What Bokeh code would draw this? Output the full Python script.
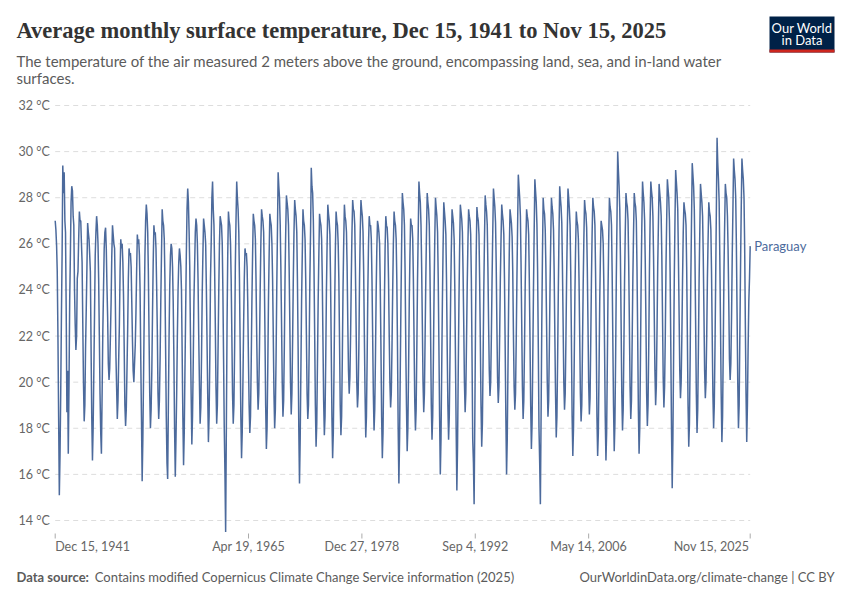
import pandas as pd
from bokeh.plotting import figure
from bokeh.models import ColumnDataSource, Range1d, Label
from bokeh.embed import file_html
from bokeh.resources import INLINE

# ---------------- data (monthly mean temperature, Paraguay, degC) ----------------
temps_1940s = [
    27.0,
    26.6, 25.9, 24.8, 22.0, 18.5, 15.1, 16.8, 19.5, 22.8, 25.5, 29.4, 28.2,
    29.1, 27.0, 26.5, 23.0, 18.7, 20.5, 16.9, 19.8, 23.5, 25.5, 27.8, 28.5,
    28.3, 27.2, 26.8, 24.0, 22.5, 21.4, 22.0, 24.5, 24.8, 26.2, 27.4, 27.0,
    27.0, 26.0, 25.2, 22.5, 20.0, 18.3, 19.0, 21.5, 23.2, 25.0, 26.9, 26.5,
    26.2, 25.5, 24.8, 21.5, 18.5, 16.6, 18.0, 20.5, 23.0, 25.5, 26.5, 27.2,
    26.8, 26.0, 24.5, 22.0, 19.5, 17.8, 16.9, 19.5, 22.2, 24.0, 25.8, 26.5,
    26.7, 25.8, 24.2, 22.8, 20.8, 20.1, 20.6, 22.0, 23.5, 25.5, 26.8, 26.4,
    26.0, 25.8, 24.0, 21.2, 19.8, 18.4, 19.2, 21.0, 22.5, 24.8, 26.2, 25.8,
]
temps_1950s = [
    26.0, 25.2, 23.8, 21.5, 19.0, 18.1, 18.8, 20.5, 22.3, 24.5, 25.8, 25.5,
    25.6, 25.0, 23.5, 21.8, 20.5, 20.0, 20.8, 21.6, 23.0, 24.8, 26.4, 26.0,
    26.2, 25.5, 24.0, 21.0, 18.5, 15.7, 17.5, 20.2, 23.0, 25.5, 27.0, 27.7,
    27.3, 26.5, 24.8, 22.0, 19.5, 18.0, 18.8, 20.5, 23.0, 25.2, 26.8, 26.4,
    26.5, 25.8, 24.2, 22.2, 19.5, 18.4, 19.2, 21.0, 23.5, 25.5, 27.5, 27.0,
    26.8, 26.2, 24.5, 21.5, 18.5, 16.5, 15.8, 19.0, 22.0, 24.2, 25.5, 26.0,
    25.8, 25.0, 23.5, 21.0, 18.0, 15.9, 17.5, 19.5, 22.0, 24.0, 25.2, 25.8,
    25.5, 25.0, 24.0, 21.2, 18.5, 16.4, 17.8, 20.5, 23.0, 25.5, 27.5, 28.4,
    27.8, 26.5, 25.0, 22.0, 19.5, 17.3, 18.5, 20.8, 23.5, 25.0, 26.5, 27.1,
    26.8, 26.0, 24.5, 22.0, 20.0, 18.2, 18.9, 21.0, 23.8, 25.5, 27.1, 26.8,
]
temps_1960s = [
    26.5, 26.0, 24.2, 21.8, 19.5, 17.4, 18.5, 21.0, 24.5, 26.0, 28.0, 28.7,
    27.5, 26.8, 25.0, 22.5, 19.8, 18.2, 19.0, 21.5, 24.0, 26.0, 27.2, 27.0,
    26.8, 26.0, 24.0, 21.0, 18.0, 16.0, 13.5, 18.0, 22.5, 25.5, 27.4, 27.0,
    26.8, 26.0, 24.5, 22.0, 19.5, 18.2, 19.0, 21.5, 25.0, 27.0, 28.7, 28.0,
    27.5, 26.5, 24.5, 21.5, 18.5, 16.7, 17.8, 20.0, 22.5, 24.5, 25.8, 25.5,
    25.6, 25.0, 23.5, 21.0, 19.0, 17.8, 18.5, 20.8, 23.5, 25.5, 27.3, 27.0,
    26.8, 26.2, 24.5, 22.0, 20.0, 18.8, 19.5, 21.5, 24.0, 26.0, 27.5, 27.2,
    27.0, 26.5, 24.8, 22.0, 19.0, 17.1, 18.0, 20.5, 23.5, 25.5, 27.3, 27.0,
    26.8, 26.0, 24.5, 22.0, 19.5, 18.0, 18.8, 21.0, 24.0, 26.5, 29.1, 28.5,
    28.0, 26.8, 25.0, 22.5, 20.0, 18.5, 19.2, 21.5, 24.5, 26.5, 28.1, 27.8,
]
temps_1970s = [
    27.5, 26.8, 25.0, 22.5, 20.0, 18.6, 19.5, 21.8, 24.5, 26.5, 27.9, 27.5,
    27.2, 26.5, 24.5, 21.5, 18.0, 15.6, 17.5, 20.5, 23.5, 25.5, 27.5, 27.0,
    26.8, 26.2, 24.5, 22.0, 19.5, 18.4, 19.0, 21.5, 24.5, 26.5, 29.3, 28.5,
    28.2, 27.0, 25.0, 22.0, 19.0, 17.2, 18.2, 20.8, 23.5, 25.5, 27.3, 27.0,
    26.8, 26.2, 24.5, 21.8, 19.2, 17.7, 18.5, 21.0, 24.0, 26.0, 27.7, 27.3,
    27.0, 26.4, 24.5, 21.5, 18.5, 16.7, 17.8, 20.5, 23.5, 25.8, 27.4, 27.0,
    26.8, 26.0, 24.5, 21.8, 19.0, 17.7, 18.5, 21.0, 24.0, 26.0, 27.7, 27.2,
    27.0, 26.5, 25.0, 22.5, 20.5, 19.5, 20.2, 22.0, 24.5, 26.5, 27.9, 27.5,
    27.4, 26.8, 25.0, 22.5, 20.0, 18.9, 19.5, 21.5, 24.5, 26.5, 27.9, 27.5,
    27.2, 26.5, 24.8, 22.0, 19.5, 17.6, 18.5, 21.0, 24.0, 26.0, 27.2, 26.8,
]
temps_1980s = [
    26.8, 26.2, 24.5, 22.0, 19.5, 17.9, 18.8, 21.0, 23.8, 25.8, 27.0, 26.8,
    26.5, 26.0, 24.2, 21.5, 18.5, 16.7, 17.8, 20.5, 23.5, 25.8, 27.2, 26.8,
    26.7, 26.0, 24.5, 22.0, 20.0, 18.9, 19.5, 21.5, 24.0, 26.0, 27.4, 27.0,
    26.8, 26.2, 24.5, 21.5, 18.0, 15.6, 17.5, 20.5, 23.5, 26.0, 28.2, 27.8,
    27.5, 26.8, 24.8, 21.5, 19.0, 17.0, 18.0, 20.5, 23.5, 25.5, 27.1, 26.8,
    26.8, 26.2, 24.5, 21.8, 19.2, 17.9, 18.8, 21.5, 24.5, 26.5, 28.7, 28.2,
    27.8, 26.8, 25.0, 22.5, 20.0, 18.7, 19.5, 22.0, 24.5, 26.5, 28.2, 27.8,
    27.5, 26.8, 25.0, 22.0, 19.0, 17.5, 18.5, 21.0, 24.0, 26.2, 28.0, 27.6,
    27.2, 26.5, 24.5, 21.5, 18.5, 16.0, 17.5, 20.5, 23.5, 25.8, 27.8, 27.4,
    27.0, 26.4, 24.5, 21.5, 19.0, 17.5, 18.5, 21.0, 23.8, 25.8, 27.5, 27.2,
]
temps_1990s = [
    26.9, 26.2, 24.2, 21.0, 18.0, 15.3, 17.2, 20.5, 23.5, 25.8, 27.7, 27.4,
    27.1, 26.5, 24.8, 22.5, 20.0, 18.7, 19.5, 21.8, 24.2, 26.0, 27.5, 27.2,
    27.0, 26.4, 24.5, 21.0, 17.5, 16.5, 14.7, 18.5, 22.5, 25.5, 27.6, 27.2,
    27.0, 26.4, 24.5, 21.8, 19.0, 17.2, 18.2, 21.0, 24.0, 26.2, 28.1, 27.7,
    27.4, 26.8, 25.0, 22.5, 20.5, 19.4, 20.0, 22.0, 24.5, 26.5, 28.4, 28.0,
    27.6, 26.9, 25.2, 22.5, 20.2, 19.1, 19.8, 22.0, 24.5, 26.2, 27.7, 27.3,
    27.0, 26.4, 24.5, 21.5, 18.5, 16.0, 17.5, 20.5, 23.5, 25.8, 27.5, 27.2,
    26.9, 26.3, 24.8, 22.0, 19.8, 18.8, 19.5, 21.8, 24.5, 26.8, 29.0, 28.5,
    28.0, 27.2, 25.2, 22.5, 19.8, 18.4, 19.2, 21.5, 24.2, 26.0, 27.5, 27.2,
    27.0, 26.4, 24.5, 21.8, 19.0, 17.1, 18.2, 21.0, 24.0, 26.5, 28.8, 28.3,
]
temps_2000s = [
    27.8, 26.8, 24.8, 21.5, 18.0, 16.5, 14.7, 18.5, 22.5, 25.5, 28.0, 27.5,
    27.3, 26.6, 25.0, 22.5, 20.0, 18.5, 19.2, 21.5, 24.2, 26.2, 28.0, 27.6,
    27.3, 26.6, 24.8, 22.0, 19.5, 17.6, 18.5, 21.0, 24.0, 26.5, 28.5, 28.0,
    27.6, 26.9, 25.0, 22.5, 20.0, 18.8, 19.5, 21.8, 24.5, 26.5, 28.4, 28.0,
    27.5, 26.8, 24.8, 21.8, 18.5, 16.8, 18.0, 20.8, 23.8, 25.8, 27.4, 27.0,
    26.8, 26.2, 24.5, 22.0, 19.5, 18.3, 19.0, 21.5, 24.2, 26.2, 27.9, 27.5,
    27.3, 26.7, 25.0, 22.5, 20.0, 18.6, 19.3, 21.8, 24.5, 26.5, 28.0, 27.6,
    27.4, 26.8, 24.8, 21.8, 18.5, 16.8, 17.8, 20.5, 23.5, 25.5, 27.0, 26.8,
    26.6, 26.0, 24.2, 21.5, 18.5, 16.6, 17.8, 20.8, 24.0, 26.2, 28.0, 27.6,
    27.4, 26.8, 24.8, 21.8, 19.0, 17.0, 18.2, 21.0, 24.5, 27.0, 30.0, 29.2,
]
temps_2010s = [
    28.5, 27.5, 25.5, 22.5, 19.5, 17.9, 18.8, 21.5, 24.5, 26.5, 28.2, 27.8,
    27.6, 27.0, 25.2, 22.5, 19.8, 18.4, 19.2, 21.8, 24.5, 26.5, 28.2, 27.8,
    27.6, 27.0, 25.0, 22.0, 18.8, 16.9, 18.0, 21.0, 24.5, 26.8, 28.7, 28.2,
    27.8, 27.0, 25.2, 22.5, 19.5, 18.1, 19.0, 21.5, 24.8, 27.0, 28.7, 28.3,
    28.0, 27.2, 25.5, 23.0, 20.5, 19.0, 19.8, 22.2, 25.0, 26.8, 28.6, 28.2,
    27.8, 27.2, 25.5, 22.8, 20.2, 18.9, 19.8, 22.0, 25.0, 27.0, 28.8, 28.4,
    28.0, 27.0, 24.8, 21.5, 18.0, 15.4, 17.5, 21.0, 24.5, 27.0, 29.2, 28.7,
    28.2, 27.5, 25.5, 23.0, 20.5, 19.3, 20.0, 22.0, 24.5, 26.5, 27.8, 27.5,
    27.3, 26.8, 25.0, 22.0, 19.0, 17.2, 18.2, 21.0, 24.5, 27.0, 29.5, 29.0,
    28.5, 27.5, 25.5, 22.5, 19.5, 17.8, 18.8, 21.5, 24.5, 26.5, 28.6, 28.2,
]
temps_2020s = [
    27.8, 27.2, 25.5, 23.0, 20.5, 19.3, 20.0, 22.0, 24.5, 26.2, 27.8, 27.4,
    27.2, 26.6, 24.8, 22.0, 19.5, 18.0, 19.0, 21.5, 24.5, 27.5, 30.6, 29.5,
    28.8, 27.8, 25.5, 22.5, 19.5, 17.4, 18.5, 21.5, 24.8, 26.8, 28.6, 28.2,
    28.0, 27.2, 25.8, 23.5, 21.0, 20.1, 20.8, 22.8, 25.5, 27.5, 29.7, 29.2,
    28.8, 28.0, 26.0, 23.0, 20.0, 18.0, 19.0, 22.0, 25.0, 27.5, 29.7, 29.2,
    28.8, 28.0, 26.0, 22.5, 19.5, 17.4, 19.0, 21.5, 23.5, 24.5, 25.9,
]
series_name = "Paraguay"
first_month = "1941-12-01"

x_tick_dates = ["1941-12-15", "1965-04-19", "1978-12-27", "1992-09-04", "2006-05-14", "2025-11-15"]
x_tick_labels = ["Dec 15, 1941", "Apr 19, 1965", "Dec 27, 1978", "Sep 4, 1992", "May 14, 2006", "Nov 15, 2025"]
y_ticks = [14, 16, 18, 20, 22, 24, 26, 28, 30, 32]
y_tick_labels = ["14 °C", "16 °C", "18 °C", "20 °C", "22 °C", "24 °C", "26 °C", "28 °C", "30 °C", "32 °C"]

title_text = "Average monthly surface temperature, Dec 15, 1941 to Nov 15, 2025"
subtitle_1 = "The temperature of the air measured 2 meters above the ground, encompassing land, sea, and in-land water"
subtitle_2 = "surfaces."
source_bold = "Data source:"
source_text = "Contains modified Copernicus Climate Change Service information (2025)"
footer_right = "OurWorldinData.org/climate-change | CC BY"
logo_lines = ["Our World", "in Data"]

# ---------------- build ----------------
values = (temps_1940s + temps_1950s + temps_1960s + temps_1970s + temps_1980s
          + temps_1990s + temps_2000s + temps_2010s + temps_2020s)
dates = pd.date_range(first_month, periods=len(values), freq="MS") + pd.Timedelta(days=14)
source = ColumnDataSource(dict(date=dates, temp=values))

LINE = "#4C6A9C"
GREY = "#5b5b5b"
AXIS_GREY = "#666666"
FONT = "Lato"
W, H = 842, 592

# layout geometry (page pixels) of the plotting area
PX0, PX1 = 54.7, 749.7          # first / last date
PY_TOP, PY_BOT = 105.0, 520.0   # 32 degC / 14 degC
tick_ms = [pd.Timestamp(d).value / 1e6 for d in x_tick_dates]
t0, t1 = tick_ms[0], tick_ms[-1]

def X(px):
    return t0 + (px - PX0) * (t1 - t0) / (PX1 - PX0)

def Y(py):
    return y_ticks[-1] - (py - PY_TOP) * (y_ticks[-1] - y_ticks[0]) / (PY_BOT - PY_TOP)

p = figure(width=W, height=H, output_backend="svg", toolbar_location=None,
           x_axis_location=None, y_axis_location=None,
           x_range=Range1d(X(0), X(W)), y_range=Range1d(Y(H), Y(0)),
           min_border=0)
p.min_border_left = p.min_border_right = p.min_border_top = p.min_border_bottom = 0
p.outline_line_color = None
p.background_fill_color = "white"
p.border_fill_color = "white"
p.xgrid.visible = False
p.ygrid.visible = False

# horizontal dashed grid lines over the data span
p.segment(x0=[t0] * len(y_ticks), x1=[t1] * len(y_ticks), y0=y_ticks, y1=y_ticks,
          line_color="#dddddd", line_width=1, line_dash="5 4")

# x tick marks
p.segment(x0=tick_ms, x1=tick_ms, y0=[Y(533)] * len(tick_ms), y1=[Y(538)] * len(tick_ms),
          line_color="#aaaaaa", line_width=1)

# the series
p.line("date", "temp", source=source, line_color=LINE, line_width=1.5)

def add_label(text, x, y, size, color=GREY, font=FONT, align="left",
              style="normal", x_offset=0):
    p.add_layout(Label(x=x, y=y, text=text, text_font=font, text_font_size=size,
                       text_color=color, text_align=align, text_baseline="middle",
                       text_font_style=style, x_offset=x_offset))

# y tick labels
for t, lab in zip(y_ticks, y_tick_labels):
    add_label(lab, X(18), t, "12.5px", color=AXIS_GREY)

# x tick labels
n = len(tick_ms)
for i, (m, lab) in enumerate(zip(tick_ms, x_tick_labels)):
    align = "left" if i == 0 else ("right" if i == n - 1 else "center")
    add_label(lab, m, Y(546.2), "12.5px", color=AXIS_GREY, align=align,
              x_offset=(-1 if i == n - 1 else 0))

# series label at the end of the line
add_label(series_name, dates[-1], values[-1], "13px", color=LINE, x_offset=4)

# title & subtitle
add_label(title_text, X(16), Y(29.8), "22.5px", color="#333333", font="Liberation Serif",
          style="bold")
add_label(subtitle_1, X(16), Y(60.3), "15px", color=GREY)
add_label(subtitle_2, X(16), Y(77.2), "15px", color=GREY)

# footer
add_label(source_bold, X(16), Y(576.0), "13px", color=GREY, style="bold")
add_label(source_text, X(94.3), Y(576.0), "13px", color=GREY)
add_label(footer_right, X(834), Y(576.0), "13px", color=GREY, align="right")

# logo
p.quad(left=[X(769)], right=[X(834)], top=[Y(16)], bottom=[Y(52)],
       fill_color="#002147", line_color=None)
p.quad(left=[X(769)], right=[X(834)], top=[Y(49)], bottom=[Y(52)],
       fill_color="#ce261e", line_color=None)
add_label(logo_lines[0], X(801.5), Y(27.0), "13px", color="white", align="center")
add_label(logo_lines[1], X(801.5), Y(39.5), "13px", color="white", align="center")

open("out.html", "w").write(file_html(p, INLINE))
